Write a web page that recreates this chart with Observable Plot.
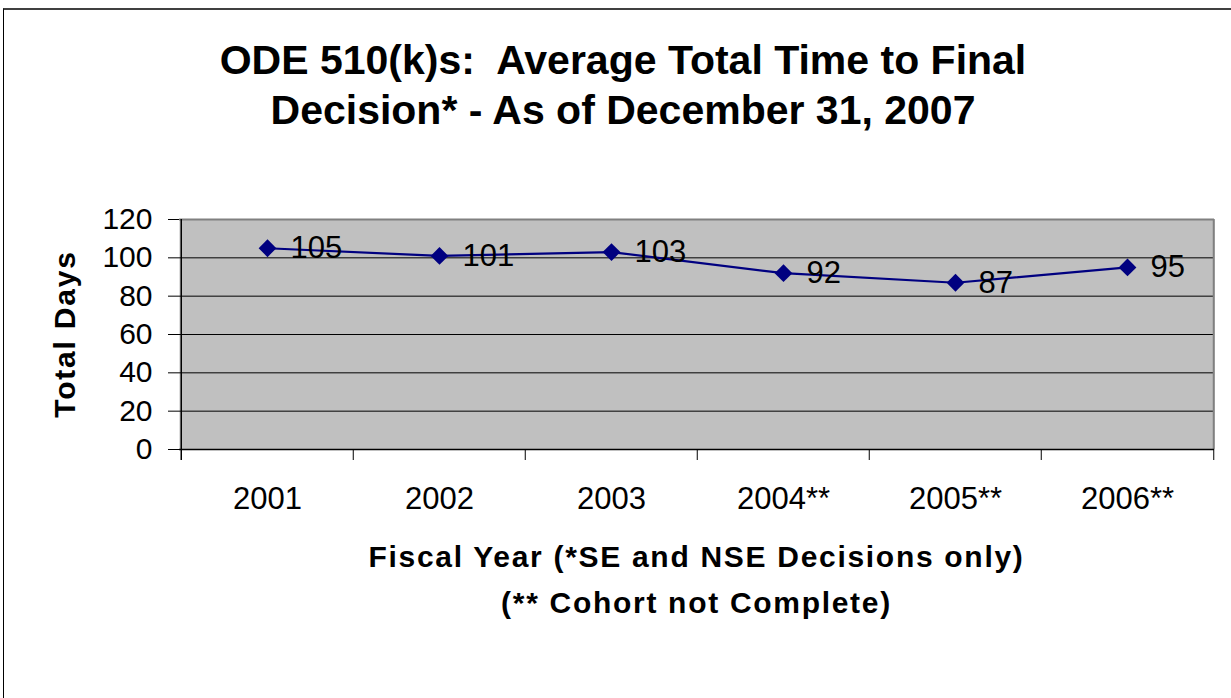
<!DOCTYPE html>
<html>
<head>
<meta charset="utf-8">
<script src="https://cdn.jsdelivr.net/npm/d3@7"></script>
<script src="https://cdn.jsdelivr.net/npm/@observablehq/plot@0.6"></script>
<style>
  html, body { margin: 0; padding: 0; background: white; overflow: hidden; }
  #wrap { position: relative; width: 1231px; height: 698px; font-family: "Liberation Sans", Arial, sans-serif; color: black; }
  #frame { position: absolute; left: 3px; top: 8px; width: 1400px; height: 900px; border-top: 2px solid #404040; border-left: 1px solid #000; box-sizing: border-box; pointer-events: none; }
  #title { position: absolute; left: 3px; width: 1240px; top: 35px; text-align: center; font-weight: bold; font-size: 41px; line-height: 50px; white-space: pre; }
  #xtitle { position: absolute; left: 179px; width: 1035px; top: 534px; text-align: center; font-weight: bold; font-size: 30px; line-height: 46px; letter-spacing: 1.7px; white-space: pre; }
  #ytitle { position: absolute; left: 65px; top: 334px; transform: translate(-50%, -50%) rotate(-90deg); font-weight: bold; font-size: 30px; letter-spacing: 1.8px; white-space: nowrap; }
  #chart { position: absolute; left: 0; top: 0; }
</style>
</head>
<body>
<div id="wrap">
  <div id="chart"></div>
  <div id="title"></div>
  <div id="xtitle"></div>
  <div id="ytitle"></div>
  <div id="frame"></div>
</div>
<script>
const titleLines = ["ODE 510(k)s:  Average Total Time to Final", "Decision* - As of December 31, 2007"];
const xTitleLines = ["Fiscal Year (*SE and NSE Decisions only)", "(** Cohort not Complete)"];
const yTitle = "Total Days";
const years = ["2001", "2002", "2003", "2004**", "2005**", "2006**"];
const totalDays = [105, 101, 103, 92, 87, 95];
const yTicks = [0, 20, 40, 60, 80, 100, 120];

const data = years.map((year, i) => ({year, days: totalDays[i]}));

const W = 1231, H = 698;
const mL = 179, mR = 17, mT = 219, mB = 249;
const bw = (W - mL - mR) / years.length;
const plotH = H - mT - mB;

document.getElementById("title").textContent = titleLines.join("\n");
document.getElementById("xtitle").textContent = xTitleLines.join("\n");
document.getElementById("ytitle").textContent = yTitle;

const chart = Plot.plot({
  width: W,
  height: H,
  marginLeft: mL,
  marginRight: mR,
  marginTop: mT,
  marginBottom: mB,
  style: {fontFamily: "'Liberation Sans', Arial, sans-serif", fontSize: "30px", background: "transparent", color: "black", overflow: "visible"},
  x: {type: "band", domain: years, padding: 0, axis: null},
  y: {domain: [0, 120], axis: null},
  marks: [
    Plot.frame({fill: "#C0C0C0", stroke: "none"}),
    Plot.ruleY(yTicks.filter(v => v > 0 && v < 120), {stroke: "black", strokeWidth: 1}),
    Plot.ruleY([120], {stroke: "#808080", strokeWidth: 2}),
    Plot.ruleX([years[years.length - 1]], {dx: bw / 2, stroke: "#808080", strokeWidth: 2}),
    Plot.ruleX(years.slice(1), {dx: -bw / 2, insetTop: plotH, insetBottom: -11, stroke: "black", strokeWidth: 1}),
    Plot.ruleX([years[years.length - 1]], {dx: bw / 2, insetTop: plotH, insetBottom: -11, stroke: "black", strokeWidth: 1}),
    Plot.ruleY([0], {stroke: "black", strokeWidth: 1.5}),
    Plot.ruleX([years[0]], {dx: -bw / 2, insetBottom: -11, stroke: "black", strokeWidth: 1.5}),
    Plot.axisY({ticks: yTicks, tickSize: 11, tickPadding: 16, fontSize: 30, label: null, stroke: "black"}),
    Plot.axisX({tickSize: 0, tickPadding: 37, fontSize: 31, label: null}),
    Plot.line(data, {x: "year", y: "days", stroke: "#000080", strokeWidth: 2.2}),
    Plot.dot(data, {x: "year", y: "days", symbol: "diamond2", r: 8, fill: "#000080", stroke: "none"}),
    Plot.text(data, {x: "year", y: "days", text: d => String(d.days), dx: 23, textAnchor: "start", fontSize: 31, fill: "black"})
  ]
});
document.getElementById("chart").appendChild(chart);
</script>
</body>
</html>
